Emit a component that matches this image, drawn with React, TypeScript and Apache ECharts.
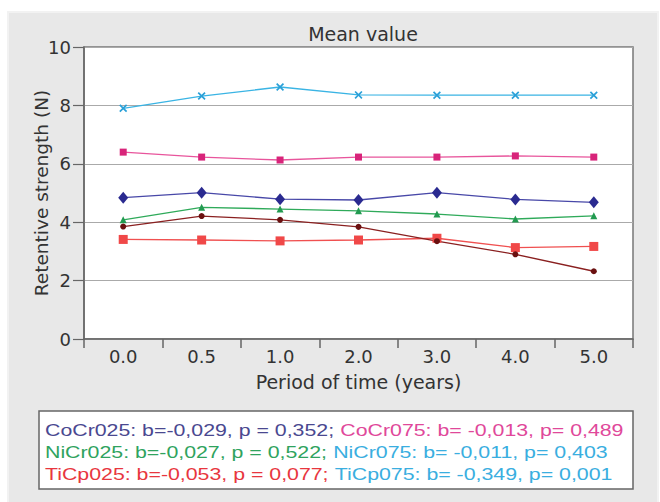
import React, { useEffect, useRef } from "react";
import * as echarts from "echarts";

const categories = ["0.0", "0.5", "1.0", "2.0", "3.0", "4.0", "5.0"];
const niCr075 = [7.9, 8.32, 8.63, 8.36, 8.35, 8.35, 8.35];
const coCr075 = [6.4, 6.23, 6.13, 6.23, 6.23, 6.27, 6.23];
const coCr025 = [4.84, 5.01, 4.79, 4.76, 5.01, 4.78, 4.68];
const niCr025 = [4.08, 4.51, 4.45, 4.39, 4.28, 4.11, 4.22];
const tiCp075 = [3.85, 4.21, 4.08, 3.84, 3.35, 2.9, 2.32];
const tiCp025 = [3.41, 3.39, 3.36, 3.39, 3.45, 3.13, 3.17];

const legendLines = [
  [["CoCr025: b=-0,029, p = 0,352; ", "a"], ["CoCr075: b= -0,013, p= 0,489", "b"]],
  [["NiCr025: b=-0,027, p = 0,522; ", "c"], ["NiCr075: b= -0,011, p= 0,403", "d"]],
  [["TiCp025: b=-0,053, p = 0,077; ", "e"], ["TiCp075: b= -0,349, p= 0,001", "d"]],
];

const FONT = "Liberation Sans, Arial, sans-serif";
const AXFONT = "DejaVu Sans, sans-serif";

export default function App() {
  const ref = useRef<HTMLDivElement>(null);
  useEffect(() => {
    const chart = echarts.init(ref.current!, null, { renderer: "svg" });
    const xPath = "path://M0,1.5L1.5,0L5,3.5L8.5,0L10,1.5L6.5,5L10,8.5L8.5,10L5,6.5L1.5,10L0,8.5L3.5,5Z";
    const rich = {
      a: { fill: "#4a4890", fontSize: 17, fontFamily: FONT },
      b: { fill: "#e0489a", fontSize: 17, fontFamily: FONT },
      c: { fill: "#2fa35e", fontSize: 17, fontFamily: FONT },
      d: { fill: "#3aaee0", fontSize: 17, fontFamily: FONT },
      e: { fill: "#e8363e", fontSize: 17, fontFamily: FONT },
    };
    const legendTexts = legendLines.map((line, i) => ({
      type: "text",
      x: 45,
      y: 430 + i * 22,
      scaleX: 1.255,
      z: 20,
      style: {
        text: line.map(([t, k]) => `{${k}|${t}}`).join(""),
        rich,
        font: `17px ${FONT}`,
        verticalAlign: "middle",
      },
    }));
    const line = (name: string, data: number[], color: string, symbol: string, size: number | number[], mColor?: string) => ({
      name,
      type: "line",
      data,
      symbol,
      symbolSize: size,
      lineStyle: { color, width: 1.3 },
      itemStyle: { color: mColor || color },
      z: 5,
    });
    chart.setOption({
      animation: false,
      backgroundColor: "#ffffff",
      title: {
        text: "Mean value",
        left: 358,
        textAlign: "center",
        top: 19,
        textStyle: { fontSize: 19, fontWeight: "normal", color: "#333", fontFamily: AXFONT },
      },
      graphic: [
        {
          type: "rect",
          shape: { x: 8, y: 12, width: 650, height: 492 },
          style: { fill: "#e8e8e8", stroke: "#f2f2f2", lineWidth: 2 },
          z: -10,
          silent: true,
        },
        {
          type: "rect",
          shape: { x: 39, y: 411, width: 594, height: 78 },
          style: { fill: "#ffffff", stroke: "#666666", lineWidth: 1.5 },
          z: 10,
        },
        ...legendTexts,
      ],
      grid: {
        left: 84,
        right: 27,
        top: 47,
        bottom: 163,
        show: true,
        backgroundColor: "#ffffff",
        borderColor: "#777",
        borderWidth: 1.5,
      },
      xAxis: {
        type: "category",
        data: categories,
        boundaryGap: true,
        name: "Period of time (years)",
        nameLocation: "middle",
        nameGap: 33,
        nameTextStyle: { fontSize: 19, color: "#333", fontFamily: AXFONT },
        axisLine: { lineStyle: { color: "#666", width: 1.5 } },
        axisTick: { show: true, length: 9, lineStyle: { color: "#666", width: 1.5 } },
        axisLabel: { fontSize: 18, color: "#333", fontFamily: AXFONT, margin: 8 },
      },
      yAxis: {
        type: "value",
        min: 0,
        max: 10,
        interval: 2,
        name: "Retentive strength (N)",
        nameLocation: "middle",
        nameGap: 33,
        nameMoveOverlap: false,
        nameTextStyle: { fontSize: 18.5, color: "#333", fontFamily: AXFONT },
        axisLine: { show: true, lineStyle: { color: "#666", width: 1.5 } },
        axisTick: { show: true, length: 11, lineStyle: { color: "#666", width: 1.2 } },
        axisLabel: { fontSize: 18, color: "#333", fontFamily: AXFONT, margin: 13 },
        splitLine: { show: true, lineStyle: { color: "#aaa", width: 1 } },
      },
      series: [
        line("NiCr075", niCr075, "#3ab4e4", xPath, 8, "#2aa0d8"),
        line("CoCr075", coCr075, "#e8559c", "rect", 7, "#d8247a"),
        line("CoCr025", coCr025, "#4848a8", "diamond", [10, 12], "#2a2a90"),
        line("NiCr025", niCr025, "#2faa5a", "triangle", 7, "#229a50"),
        line("TiCp025", tiCp025, "#f05050", "rect", 9, "#f04848"),
        line("TiCp075", tiCp075, "#8a2020", "circle", 6, "#6a1010"),
      ],
    });
    return () => chart.dispose();
  }, []);
  return (
    <div
      ref={ref}
      style={{ position: "fixed", left: 0, top: 0, width: 660, height: 502 }}
    />
  );
}
